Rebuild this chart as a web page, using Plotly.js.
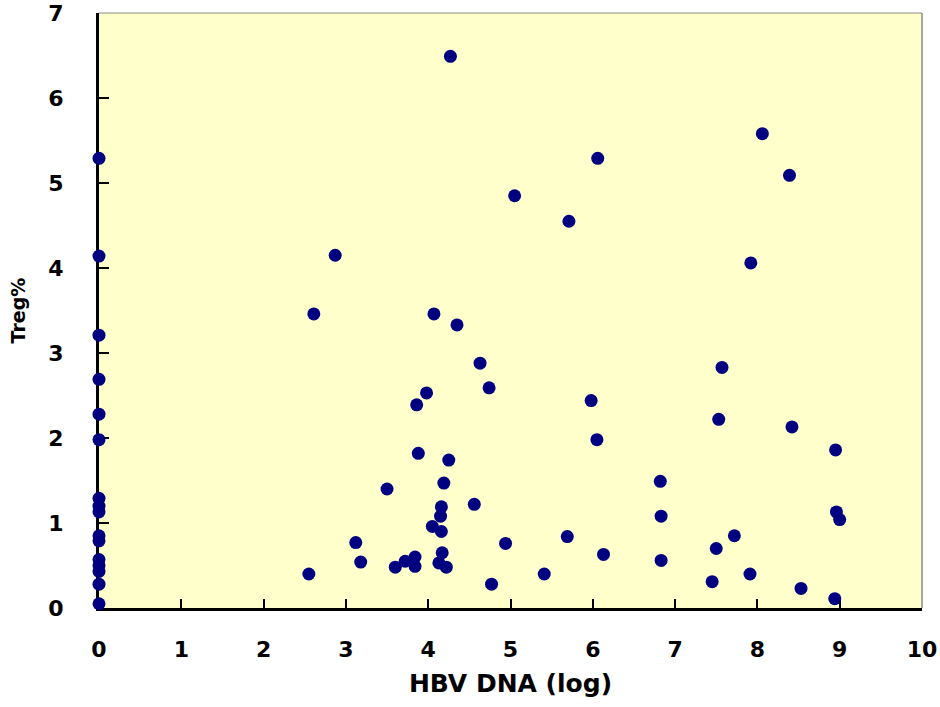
<!DOCTYPE html>
<html>
<head>
<meta charset="utf-8">
<script src="https://cdn.plot.ly/plotly-3.0.1.min.js"></script>
<style>
html,body{margin:0;padding:0;background:#fff;}
#chart{width:940px;height:707px;}
</style>
</head>
<body>
<div id="chart"></div>
<script>
// HBV DNA (log) values
const hbvDna = [
  0, 0, 0, 0, 0, 0, 0, 0, 0, 0, 0, 0, 0, 0, 0, 0,
  4.27, 8.06, 8.39, 6.06, 5.05, 5.71, 2.87, 7.92, 2.61, 4.07,
  4.35, 4.63, 4.74, 7.57, 3.98, 3.86, 5.98, 7.53, 8.42, 6.05,
  8.95, 3.88, 4.25, 4.19, 3.50, 6.82, 4.56, 4.16, 4.15, 6.83,
  8.96, 9.00, 4.05, 4.16, 3.12, 4.94, 5.69, 7.72, 7.50, 6.13,
  4.17, 6.83, 3.18, 3.84, 3.72, 3.84, 3.60, 4.13, 4.22, 2.55,
  5.41, 7.91, 4.77, 7.45, 8.53, 8.94
];
// Treg% values
const tregPct = [
  5.29, 4.14, 3.21, 2.69, 2.28, 1.98, 1.29, 1.20, 1.13, 0.85, 0.79, 0.57, 0.50, 0.43, 0.28, 0.05,
  6.49, 5.58, 5.09, 5.29, 4.85, 4.55, 4.15, 4.06, 3.46, 3.46,
  3.33, 2.88, 2.59, 2.83, 2.53, 2.39, 2.44, 2.22, 2.13, 1.98,
  1.86, 1.82, 1.74, 1.47, 1.40, 1.49, 1.22, 1.19, 1.08, 1.08,
  1.13, 1.04, 0.96, 0.90, 0.77, 0.76, 0.84, 0.85, 0.70, 0.63,
  0.65, 0.56, 0.54, 0.60, 0.55, 0.49, 0.48, 0.53, 0.48, 0.40,
  0.40, 0.40, 0.28, 0.31, 0.23, 0.11
];
const xTicks = [0,1,2,3,4,5,6,7,8,9,10];
const yTicks = [0,1,2,3,4,5,6,7];
const xTitle = 'HBV DNA (log)';
const yTitle = 'Treg%';

const trace = {
  x: hbvDna, y: tregPct, type: 'scatter', mode: 'markers',
  cliponaxis: false,
  marker: {color: '#000080', size: 13, line: {width: 0}},
  hoverinfo: 'x+y'
};

const tickFont = {family: 'DejaVu Sans', size: 22, color: '#000', weight: 'bold'};

const layout = {
  width: 940, height: 707,
  margin: {l: 99, r: 18, t: 13, b: 99, pad: 0},
  paper_bgcolor: '#ffffff',
  plot_bgcolor: '#ffffcc',
  showlegend: false,
  xaxis: {
    range: [0, 10], tickvals: xTicks, ticktext: xTicks.map(String),
    showgrid: false, zeroline: false,
    showline: true, linecolor: '#000', linewidth: 3,
    ticks: 'inside', ticklen: 9, tickwidth: 2, tickcolor: '#000',
    ticklabelstandoff: 20, ticklabeloverflow: 'allow',
    tickfont: tickFont,
    layer: 'below traces',
    title: {text: xTitle, font: {family: 'DejaVu Sans', size: 25, color: '#000', weight: 'bold'}, standoff: 14},
    automargin: false, fixedrange: true
  },
  yaxis: {
    range: [0, 7], tickvals: yTicks, ticktext: yTicks.map(String),
    showgrid: false, zeroline: false,
    showline: true, linecolor: '#000', linewidth: 3,
    ticks: 'inside', ticklen: 10, tickwidth: 2, tickcolor: '#000',
    ticklabelstandoff: 28, ticklabeloverflow: 'allow',
    tickfont: tickFont,
    layer: 'below traces',
    title: {text: yTitle, font: {family: 'DejaVu Sans', size: 19, color: '#000', weight: 'bold'}, standoff: 18},
    automargin: false, fixedrange: true
  },
  shapes: [
    {type: 'line', xref: 'paper', yref: 'paper', x0: 0, x1: 1, y0: 1, y1: 1, line: {color: '#8a8a8a', width: 1}, layer: 'below'},
    {type: 'line', xref: 'paper', yref: 'paper', x0: 1, x1: 1, y0: 0, y1: 1, line: {color: '#8a8a8a', width: 1.5}, layer: 'below'}
  ]
};

Plotly.newPlot('chart', [trace], layout, {displayModeBar: false, staticPlot: true});
</script>
</body>
</html>
